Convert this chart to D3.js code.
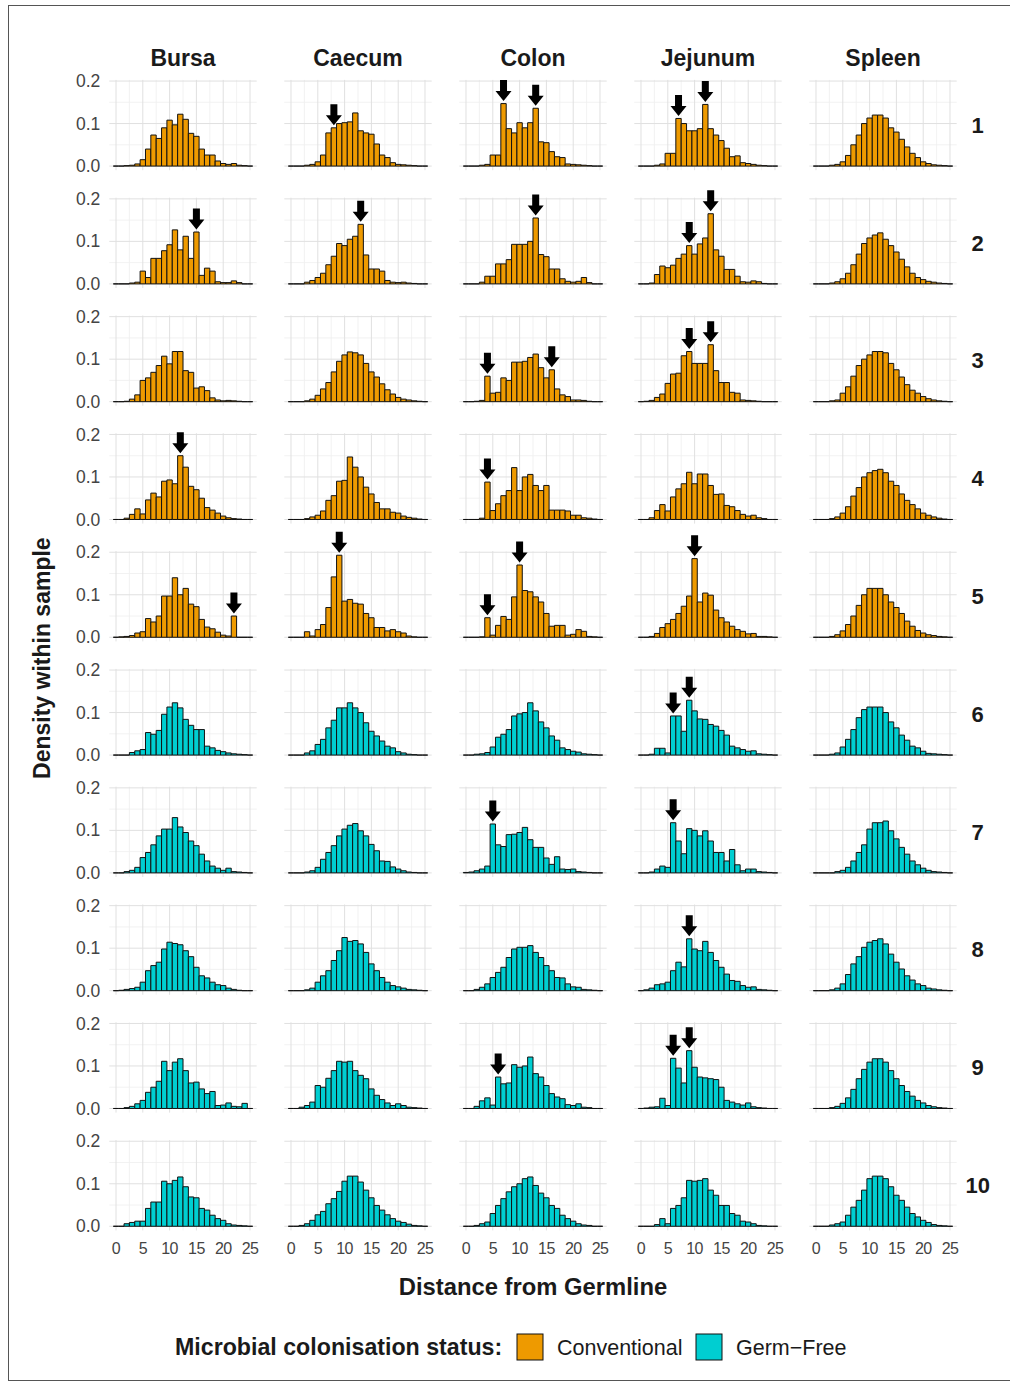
<!DOCTYPE html>
<html>
<head>
<meta charset="utf-8">
<script src="https://cdn.jsdelivr.net/npm/d3@7"></script>
<style>
  body { margin: 0; background: #fff; }
  svg { display: block; }
</style>
</head>
<body>
<script>
// facets
const tissues = ["Bursa", "Caecum", "Colon", "Jejunum", "Spleen"];
const samples = ["1", "2", "3", "4", "5", "6", "7", "8", "9", "10"];
const sampleStatus = ["Conventional", "Conventional", "Conventional", "Conventional", "Conventional",
                      "Germ-Free", "Germ-Free", "Germ-Free", "Germ-Free", "Germ-Free"];
const statusLabels = ["Conventional", "Germ\u2212Free"];
const xTicks = [0, 5, 10, 15, 20, 25];
const yTicks = [0, 0.1, 0.2];

// density per distance bin (bin i centred on distance i), one row per sample
const bursa = [
  [0,0,0.001,0.002,0.005,0.015,0.04,0.073,0.065,0.09,0.108,0.097,0.122,0.11,0.077,0.07,0.04,0.026,0.026,0.012,0.006,0.004,0.006,0.002,0.001],
  [0,0,0,0.002,0.004,0.03,0.015,0.06,0.06,0.078,0.092,0.127,0.08,0.112,0.06,0.122,0.02,0.037,0.03,0.005,0.003,0.003,0.007,0.003,0],
  [0,0,0.001,0.006,0.016,0.05,0.056,0.069,0.085,0.107,0.089,0.118,0.118,0.073,0.069,0.032,0.035,0.026,0.009,0.004,0.002,0.003,0.002,0.001,0],
  [0,0,0.003,0.012,0.025,0.013,0.046,0.062,0.053,0.09,0.093,0.084,0.15,0.123,0.078,0.07,0.05,0.028,0.022,0.015,0.008,0.004,0.002,0.001,0],
  [0,0.001,0.002,0.004,0.01,0.013,0.044,0.036,0.05,0.097,0.097,0.14,0.1,0.115,0.078,0.072,0.042,0.024,0.02,0.012,0.005,0.003,0.05,0,0],
  [0,0,0,0.006,0.01,0.013,0.053,0.049,0.058,0.096,0.113,0.123,0.111,0.084,0.07,0.06,0.06,0.021,0.017,0.011,0.008,0.005,0.003,0.002,0.001],
  [0,0,0.003,0.006,0.013,0.036,0.048,0.066,0.087,0.103,0.103,0.13,0.108,0.095,0.075,0.064,0.044,0.028,0.016,0.011,0.006,0.011,0.003,0.002,0.001],
  [0,0.001,0.003,0.005,0.008,0.02,0.047,0.059,0.067,0.098,0.114,0.111,0.108,0.094,0.08,0.055,0.035,0.03,0.02,0.014,0.012,0.006,0.003,0.001,0],
  [0,0,0.002,0.005,0.011,0.019,0.038,0.05,0.064,0.111,0.089,0.109,0.117,0.089,0.06,0.062,0.046,0.035,0.04,0.007,0.008,0.013,0.005,0.004,0.012],
  [0,0,0.006,0.009,0.012,0.012,0.042,0.057,0.057,0.106,0.1,0.108,0.116,0.093,0.069,0.067,0.042,0.038,0.026,0.018,0.014,0.006,0.003,0.002,0.001]
];
const caecum = [
  [0,0,0,0.002,0.004,0.01,0.026,0.078,0.09,0.1,0.102,0.104,0.125,0.083,0.078,0.075,0.052,0.026,0.02,0.008,0.004,0.003,0.002,0.001,0],
  [0,0,0,0.004,0.008,0.015,0.025,0.045,0.065,0.095,0.09,0.105,0.112,0.14,0.068,0.035,0.035,0.03,0.008,0.004,0.003,0.004,0.002,0.001,0],
  [0,0,0,0.002,0.006,0.015,0.03,0.045,0.07,0.095,0.11,0.117,0.115,0.11,0.09,0.07,0.058,0.042,0.028,0.018,0.01,0.006,0.004,0.002,0.001],
  [0,0,0,0.002,0.006,0.01,0.02,0.045,0.056,0.09,0.092,0.147,0.123,0.1,0.076,0.06,0.04,0.025,0.025,0.017,0.015,0.008,0.005,0.003,0.001],
  [0,0,0,0.013,0.003,0.018,0.03,0.07,0.142,0.193,0.085,0.089,0.08,0.078,0.056,0.046,0.023,0.023,0.015,0.018,0.013,0.01,0.003,0.001,0],
  [0,0,0,0.005,0.01,0.025,0.037,0.064,0.082,0.111,0.111,0.123,0.111,0.1,0.076,0.056,0.045,0.033,0.021,0.017,0.008,0.005,0.002,0.001,0],
  [0,0,0,0.002,0.005,0.013,0.032,0.048,0.064,0.087,0.103,0.112,0.116,0.099,0.087,0.067,0.052,0.028,0.027,0.014,0.009,0.005,0.002,0.001,0],
  [0,0,0,0.002,0.006,0.02,0.035,0.047,0.071,0.094,0.125,0.116,0.118,0.11,0.09,0.063,0.047,0.031,0.02,0.012,0.009,0.006,0.003,0.002,0.001],
  [0,0,0.003,0.007,0.015,0.054,0.05,0.071,0.089,0.111,0.109,0.111,0.089,0.078,0.07,0.046,0.031,0.021,0.013,0.007,0.011,0.007,0.003,0.002,0.001],
  [0,0,0.002,0.006,0.014,0.027,0.035,0.053,0.065,0.082,0.106,0.118,0.118,0.104,0.085,0.067,0.049,0.038,0.027,0.018,0.012,0.009,0.005,0.002,0.001]
];
const colon = [
  [0,0,0,0.002,0.004,0.026,0.026,0.147,0.088,0.078,0.102,0.09,0.102,0.136,0.057,0.055,0.034,0.022,0.02,0.005,0.004,0.003,0.002,0.001,0],
  [0,0,0,0.004,0.018,0.018,0.047,0.047,0.057,0.093,0.093,0.093,0.1,0.155,0.069,0.064,0.035,0.035,0.012,0.006,0.004,0.006,0.015,0.003,0],
  [0,0,0.001,0.003,0.06,0.02,0.022,0.056,0.05,0.093,0.093,0.095,0.104,0.112,0.08,0.056,0.075,0.03,0.016,0.012,0.004,0.004,0.003,0.001,0],
  [0,0,0,0.003,0.088,0.021,0.037,0.056,0.068,0.122,0.068,0.1,0.106,0.08,0.068,0.08,0.022,0.022,0.022,0.02,0.01,0.01,0.004,0.003,0.001],
  [0,0,0,0.001,0.046,0.005,0.028,0.049,0.042,0.095,0.17,0.11,0.107,0.095,0.083,0.056,0.026,0.028,0.028,0.005,0.007,0.018,0.014,0.002,0.001],
  [0,0,0.002,0.003,0.006,0.019,0.042,0.049,0.06,0.092,0.097,0.1,0.123,0.104,0.078,0.064,0.045,0.035,0.017,0.013,0.009,0.007,0.003,0.002,0.001],
  [0.001,0.002,0.005,0.009,0.016,0.115,0.066,0.062,0.09,0.091,0.095,0.107,0.078,0.06,0.06,0.035,0.02,0.038,0.009,0.008,0.009,0.003,0.002,0.001,0],
  [0,0,0.003,0.008,0.016,0.031,0.043,0.055,0.078,0.098,0.102,0.102,0.106,0.09,0.078,0.059,0.047,0.031,0.03,0.016,0.009,0.008,0.003,0.002,0.001],
  [0,0,0.005,0.018,0.025,0.008,0.074,0.058,0.06,0.103,0.097,0.1,0.121,0.082,0.074,0.054,0.035,0.027,0.023,0.009,0.007,0.011,0.003,0.002,0],
  [0,0,0.002,0.006,0.01,0.03,0.049,0.065,0.081,0.093,0.1,0.112,0.116,0.096,0.078,0.067,0.049,0.042,0.026,0.018,0.012,0.006,0.003,0.002,0]
];
const jejunum = [
  [0,0,0,0.002,0.005,0.03,0.03,0.112,0.1,0.083,0.083,0.088,0.145,0.088,0.073,0.06,0.042,0.022,0.024,0.008,0.006,0.004,0.002,0.001,0],
  [0,0,0.002,0.022,0.042,0.038,0.044,0.06,0.07,0.09,0.07,0.094,0.108,0.165,0.08,0.065,0.034,0.034,0.018,0.005,0.004,0.007,0.005,0.001,0],
  [0,0.001,0.003,0.01,0.018,0.043,0.065,0.067,0.108,0.118,0.09,0.09,0.09,0.134,0.073,0.045,0.045,0.022,0.02,0.004,0.003,0.002,0.001,0,0],
  [0,0,0.004,0.021,0.035,0.02,0.053,0.072,0.084,0.111,0.084,0.107,0.107,0.08,0.059,0.06,0.033,0.03,0.021,0.012,0.008,0.01,0.004,0.002,0],
  [0,0,0.002,0.009,0.023,0.032,0.042,0.056,0.073,0.097,0.185,0.083,0.104,0.099,0.064,0.046,0.036,0.026,0.018,0.014,0.008,0.009,0.002,0.002,0.001],
  [0,0,0.002,0.016,0.016,0.005,0.092,0.092,0.056,0.129,0.104,0.085,0.084,0.072,0.068,0.058,0.047,0.021,0.017,0.013,0.009,0.01,0.003,0.002,0.001],
  [0,0,0.002,0.009,0.016,0.013,0.118,0.075,0.045,0.104,0.1,0.087,0.099,0.075,0.048,0.048,0.028,0.055,0.019,0.005,0.009,0.009,0.003,0.002,0.001],
  [0,0.002,0.006,0.014,0.016,0.02,0.047,0.067,0.056,0.122,0.098,0.094,0.116,0.09,0.071,0.055,0.039,0.024,0.022,0.012,0.008,0.009,0.003,0.002,0.001],
  [0,0.001,0.003,0.004,0.024,0.007,0.118,0.095,0.06,0.136,0.097,0.074,0.072,0.07,0.068,0.05,0.019,0.015,0.011,0.008,0.013,0.004,0.002,0.001,0],
  [0,0,0,0.004,0.018,0.006,0.042,0.049,0.067,0.108,0.106,0.108,0.112,0.085,0.073,0.049,0.049,0.03,0.026,0.012,0.01,0.006,0.002,0.001,0]
];
const spleen = [
  [0,0,0,0.002,0.004,0.01,0.025,0.05,0.073,0.1,0.113,0.12,0.12,0.113,0.09,0.08,0.063,0.045,0.03,0.02,0.01,0.006,0.003,0.002,0.001],
  [0,0,0,0.002,0.005,0.012,0.025,0.045,0.07,0.095,0.108,0.115,0.12,0.105,0.09,0.075,0.058,0.04,0.025,0.015,0.01,0.006,0.004,0.002,0.001],
  [0,0,0,0.002,0.004,0.02,0.035,0.06,0.085,0.1,0.11,0.118,0.118,0.115,0.09,0.075,0.058,0.04,0.027,0.02,0.012,0.007,0.004,0.002,0.001],
  [0,0,0,0.002,0.006,0.015,0.03,0.055,0.075,0.1,0.11,0.115,0.118,0.11,0.09,0.08,0.06,0.045,0.035,0.025,0.015,0.01,0.006,0.003,0.001],
  [0,0,0,0.002,0.006,0.015,0.03,0.05,0.075,0.1,0.115,0.115,0.115,0.1,0.083,0.07,0.056,0.038,0.026,0.016,0.01,0.006,0.004,0.002,0.001],
  [0,0,0,0.002,0.005,0.019,0.037,0.06,0.088,0.107,0.113,0.113,0.113,0.1,0.078,0.064,0.047,0.035,0.021,0.017,0.009,0.004,0.003,0.002,0.001],
  [0,0,0,0,0.003,0.006,0.013,0.028,0.048,0.066,0.103,0.118,0.118,0.122,0.099,0.08,0.06,0.044,0.028,0.019,0.011,0.006,0.003,0.002,0.001],
  [0,0,0,0.002,0.006,0.016,0.038,0.063,0.08,0.102,0.114,0.118,0.122,0.11,0.086,0.067,0.051,0.035,0.025,0.016,0.012,0.006,0.004,0.002,0.001],
  [0,0,0,0.002,0.005,0.012,0.025,0.045,0.07,0.092,0.109,0.117,0.117,0.109,0.089,0.07,0.054,0.04,0.029,0.019,0.013,0.007,0.004,0.002,0.001],
  [0,0,0,0.003,0.006,0.01,0.026,0.045,0.061,0.085,0.112,0.118,0.118,0.112,0.093,0.073,0.061,0.045,0.03,0.022,0.014,0.009,0.004,0.002,0.001]
];
const tissueData = [bursa, caecum, colon, jejunum, spleen];
const nBins = 26; // distances 0..25, empty bins still draw the base line

// arrows: [tissue, sample, bin]
const arrows = [
  ["Caecum", "1", 8], ["Colon", "1", 7], ["Colon", "1", 13], ["Jejunum", "1", 7], ["Jejunum", "1", 12],
  ["Bursa", "2", 15], ["Caecum", "2", 13], ["Colon", "2", 13], ["Jejunum", "2", 9], ["Jejunum", "2", 13],
  ["Colon", "3", 4], ["Colon", "3", 16], ["Jejunum", "3", 9], ["Jejunum", "3", 13],
  ["Bursa", "4", 12], ["Colon", "4", 4],
  ["Bursa", "5", 22], ["Caecum", "5", 9], ["Colon", "5", 4], ["Colon", "5", 10], ["Jejunum", "5", 10],
  ["Jejunum", "6", 6], ["Jejunum", "6", 9],
  ["Colon", "7", 5], ["Jejunum", "7", 6],
  ["Jejunum", "8", 9],
  ["Colon", "9", 6], ["Jejunum", "9", 6], ["Jejunum", "9", 9]
];

const fillColors = { "Conventional": "#EE9A00", "Germ-Free": "#00CED1" };

class FacetHistogram {
  constructor(width, height) {
    this.width = width;
    this.height = height;
    this.left = 109.3;
    this.top = 79.9;
    this.colStep = 175;
    this.rowStep = 117.8;
    this.panelW = 147.4;
    this.panelH = 90.3;
    this.font = "'Liberation Sans', Arial, sans-serif";

    this.x = d3.scaleLinear().domain([-1.25, 26.25]).range([0, this.panelW]);
    this.y = d3.scaleLinear().domain([-0.0097, 0.2027]).range([this.panelH, 0]);

    this.initialize();
  }

  initialize() {
    this.svg = d3.select("body").append("svg")
      .attr("width", this.width)
      .attr("height", this.height)
      .style("font-family", this.font);

    this.svg.append("rect")
      .attr("width", this.width).attr("height", this.height)
      .attr("fill", "#fff");

    // thin frame around the figure
    this.svg.append("rect")
      .attr("x", 8.5).attr("y", 5.5)
      .attr("width", 1010).attr("height", 1375)
      .attr("fill", "none").attr("stroke", "#555").attr("stroke-width", 1);
  }

  panel(ti, si) {
    return this.svg.append("g")
      .attr("transform", `translate(${this.left + ti * this.colStep},${this.top + si * this.rowStep})`);
  }

  drawGrid(g) {
    const { x, y, panelW, panelH } = this;
    const minorX = [2.5, 7.5, 12.5, 17.5, 22.5];
    const minorY = [0.05, 0.15];
    g.selectAll(".gx-minor").data(minorX).join("line")
      .attr("x1", d => x(d)).attr("x2", d => x(d)).attr("y1", 0).attr("y2", panelH)
      .attr("stroke", "#efefef").attr("stroke-width", 0.8);
    g.selectAll(".gy-minor").data(minorY).join("line")
      .attr("y1", d => y(d)).attr("y2", d => y(d)).attr("x1", 0).attr("x2", panelW)
      .attr("stroke", "#efefef").attr("stroke-width", 0.8);
    g.selectAll(".gx").data(xTicks).join("line")
      .attr("x1", d => x(d)).attr("x2", d => x(d)).attr("y1", 0).attr("y2", panelH)
      .attr("stroke", "#e0e0e0").attr("stroke-width", 1);
    g.selectAll(".gy").data(yTicks).join("line")
      .attr("y1", d => y(d)).attr("y2", d => y(d)).attr("x1", 0).attr("x2", panelW)
      .attr("stroke", "#e0e0e0").attr("stroke-width", 1);
  }

  drawBars(g, values, fill) {
    const { x, y } = this;
    const bins = d3.range(nBins).map(i => values[i] || 0);
    // paths instead of rects so empty bins still leave the black base line
    g.selectAll(".bar").data(bins).join("path")
      .attr("d", (v, i) => {
        const x0 = x(i - 0.5), x1 = x(i + 0.5), y0 = y(0), y1 = y(v);
        return `M${x0},${y0}V${y1}H${x1}V${y0}Z`;
      })
      .attr("fill", fill)
      .attr("stroke", "#111")
      .attr("stroke-width", 1);
  }

  drawArrow(g, bin, value) {
    const px = this.x(bin);
    const py = this.y(value) - 2.5;
    g.append("path")
      .attr("d", "M0,0L-8,-10L-3.5,-10L-3.5,-21L3.5,-21L3.5,-10L8,-10Z")
      .attr("transform", `translate(${px},${py})`)
      .attr("fill", "#000");
  }

  draw() {
    tissues.forEach((tissue, ti) => {
      samples.forEach((sample, si) => {
        const g = this.panel(ti, si);
        this.drawGrid(g);
        const values = tissueData[ti][si];
        this.drawBars(g, values, fillColors[sampleStatus[si]]);

        arrows.filter(a => a[0] === tissue && a[1] === sample)
          .forEach(a => this.drawArrow(g, a[2], values[a[2]]));

        if (ti === 0) {
          g.selectAll(".ytick").data(yTicks).join("text")
            .attr("x", -9).attr("y", d => this.y(d)).attr("dy", "0.35em")
            .attr("text-anchor", "end")
            .attr("font-size", 17.5).attr("fill", "#444")
            .text(d => d3.format(".1f")(d));
        }
        if (si === samples.length - 1) {
          g.selectAll(".xtick").data(xTicks).join("text")
            .attr("x", d => this.x(d)).attr("y", this.panelH + 18).attr("dy", "0.35em")
            .attr("text-anchor", "middle")
            .attr("font-size", 16).attr("letter-spacing", -0.6).attr("fill", "#444")
            .text(d => d);
        }
        if (si === 0) {
          g.append("text")
            .attr("x", this.panelW / 2).attr("y", -22).attr("dy", "0.35em")
            .attr("text-anchor", "middle")
            .attr("font-size", 23).attr("font-weight", "bold").attr("fill", "#1a1a1a")
            .text(tissue);
        }
        if (ti === tissues.length - 1) {
          g.append("text")
            .attr("x", this.panelW + 21).attr("y", this.panelH / 2).attr("dy", "0.35em")
            .attr("text-anchor", "middle")
            .attr("font-size", 22).attr("font-weight", "bold").attr("fill", "#1a1a1a")
            .text(sample);
        }
      });
    });

    this.drawTitles();
    this.drawLegend();
  }

  drawTitles() {
    const gridLeft = this.left;
    const gridRight = this.left + 4 * this.colStep + this.panelW;
    const gridTop = this.top;
    const gridBottom = this.top + 9 * this.rowStep + this.panelH;

    this.svg.append("text")
      .attr("x", (gridLeft + gridRight) / 2).attr("y", 1287).attr("dy", "0.35em")
      .attr("text-anchor", "middle")
      .attr("font-size", 23.8).attr("font-weight", "bold").attr("fill", "#1a1a1a")
      .text("Distance from Germline");

    this.svg.append("text")
      .attr("transform", `translate(42,${(gridTop + gridBottom) / 2 + 3}) rotate(-90)`)
      .attr("dy", "0.35em")
      .attr("text-anchor", "middle")
      .attr("font-size", 23).attr("font-weight", "bold").attr("fill", "#1a1a1a")
      .text("Density within sample");
  }

  drawLegend() {
    const lg = this.svg.append("g").attr("transform", "translate(0,1347)");
    lg.append("text")
      .attr("x", 175).attr("dy", "0.35em")
      .attr("font-size", 23.2).attr("font-weight", "bold").attr("fill", "#1a1a1a")
      .text("Microbial colonisation status:");

    const keyX = [517, 696];
    const statuses = ["Conventional", "Germ-Free"];
    statuses.forEach((s, i) => {
      lg.append("rect")
        .attr("x", keyX[i]).attr("y", -13).attr("width", 26).attr("height", 26)
        .attr("fill", fillColors[s]).attr("stroke", "#111").attr("stroke-width", 1);
      lg.append("text")
        .attr("x", keyX[i] + 40).attr("dy", "0.35em")
        .attr("font-size", 21.5).attr("fill", "#1a1a1a")
        .text(statusLabels[i]);
    });
  }
}

const chart = new FacetHistogram(1010, 1385);
chart.draw();
</script>
</body>
</html>
